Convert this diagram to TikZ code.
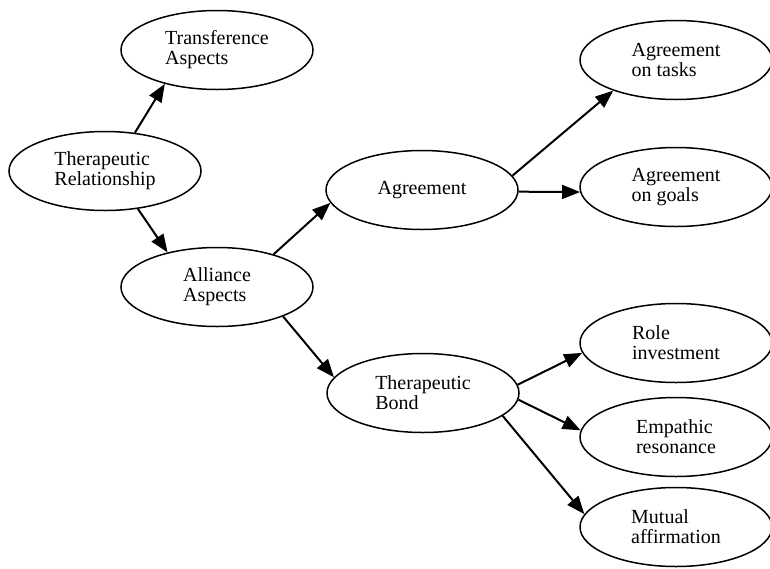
\documentclass[tikz,border=0pt]{standalone}
\usepackage{fontspec}
\setmainfont{Liberation Serif}
\usetikzlibrary{shapes.geometric,arrows.meta}
\tikzset{
  vertex/.style={ellipse,draw,line width=1.5pt,minimum width=192pt,minimum height=79pt,
    inner sep=0pt,align=left,font=\fontsize{20}{20}\selectfont},
  link/.style={-{Triangle[length=18pt,width=14pt]},line width=2pt}
}
\begin{document}
\begin{tikzpicture}[x=1pt,y=-1pt]
\useasboundingbox (0,0) rectangle (770,568);
\node[vertex] (trans) at (217,50) {Transference\\Aspects};
\node[vertex] (rel) at (105,171) {Therapeutic\\Relationship};
\node[vertex] (alli) at (217,287) {Alliance\\Aspects};
\node[vertex] (agree) at (422,190) {Agreement};
\node[vertex] (tasks) at (676,60) {Agreement\\on tasks};
\node[vertex] (goals) at (676,187) {Agreement\\on goals};
\node[vertex] (bond) at (423,393) {Therapeutic\\Bond};
\node[vertex] (role) at (676,343) {Role\\investment};
\node[vertex] (empa) at (676,437) {Empathic\\resonance};
\node[vertex] (mutu) at (676,527) {Mutual\\affirmation};
\draw[link] (rel.52) -- (trans.-147);
\draw[link] (rel.-49) -- (alli.145);
\draw[link] (alli.30) -- (agree.188);
\draw[link] (alli.-24) -- (bond.170);
\draw[link] (agree.9) -- (tasks.-154);
\draw[link] (agree.-1) -- (goals.183);
\draw[link] (bond.5) -- (role.186);
\draw[link] (bond.-4) -- (empa.176);
\draw[link] (bond.-16) -- (mutu.172);
\end{tikzpicture}
\end{document}
